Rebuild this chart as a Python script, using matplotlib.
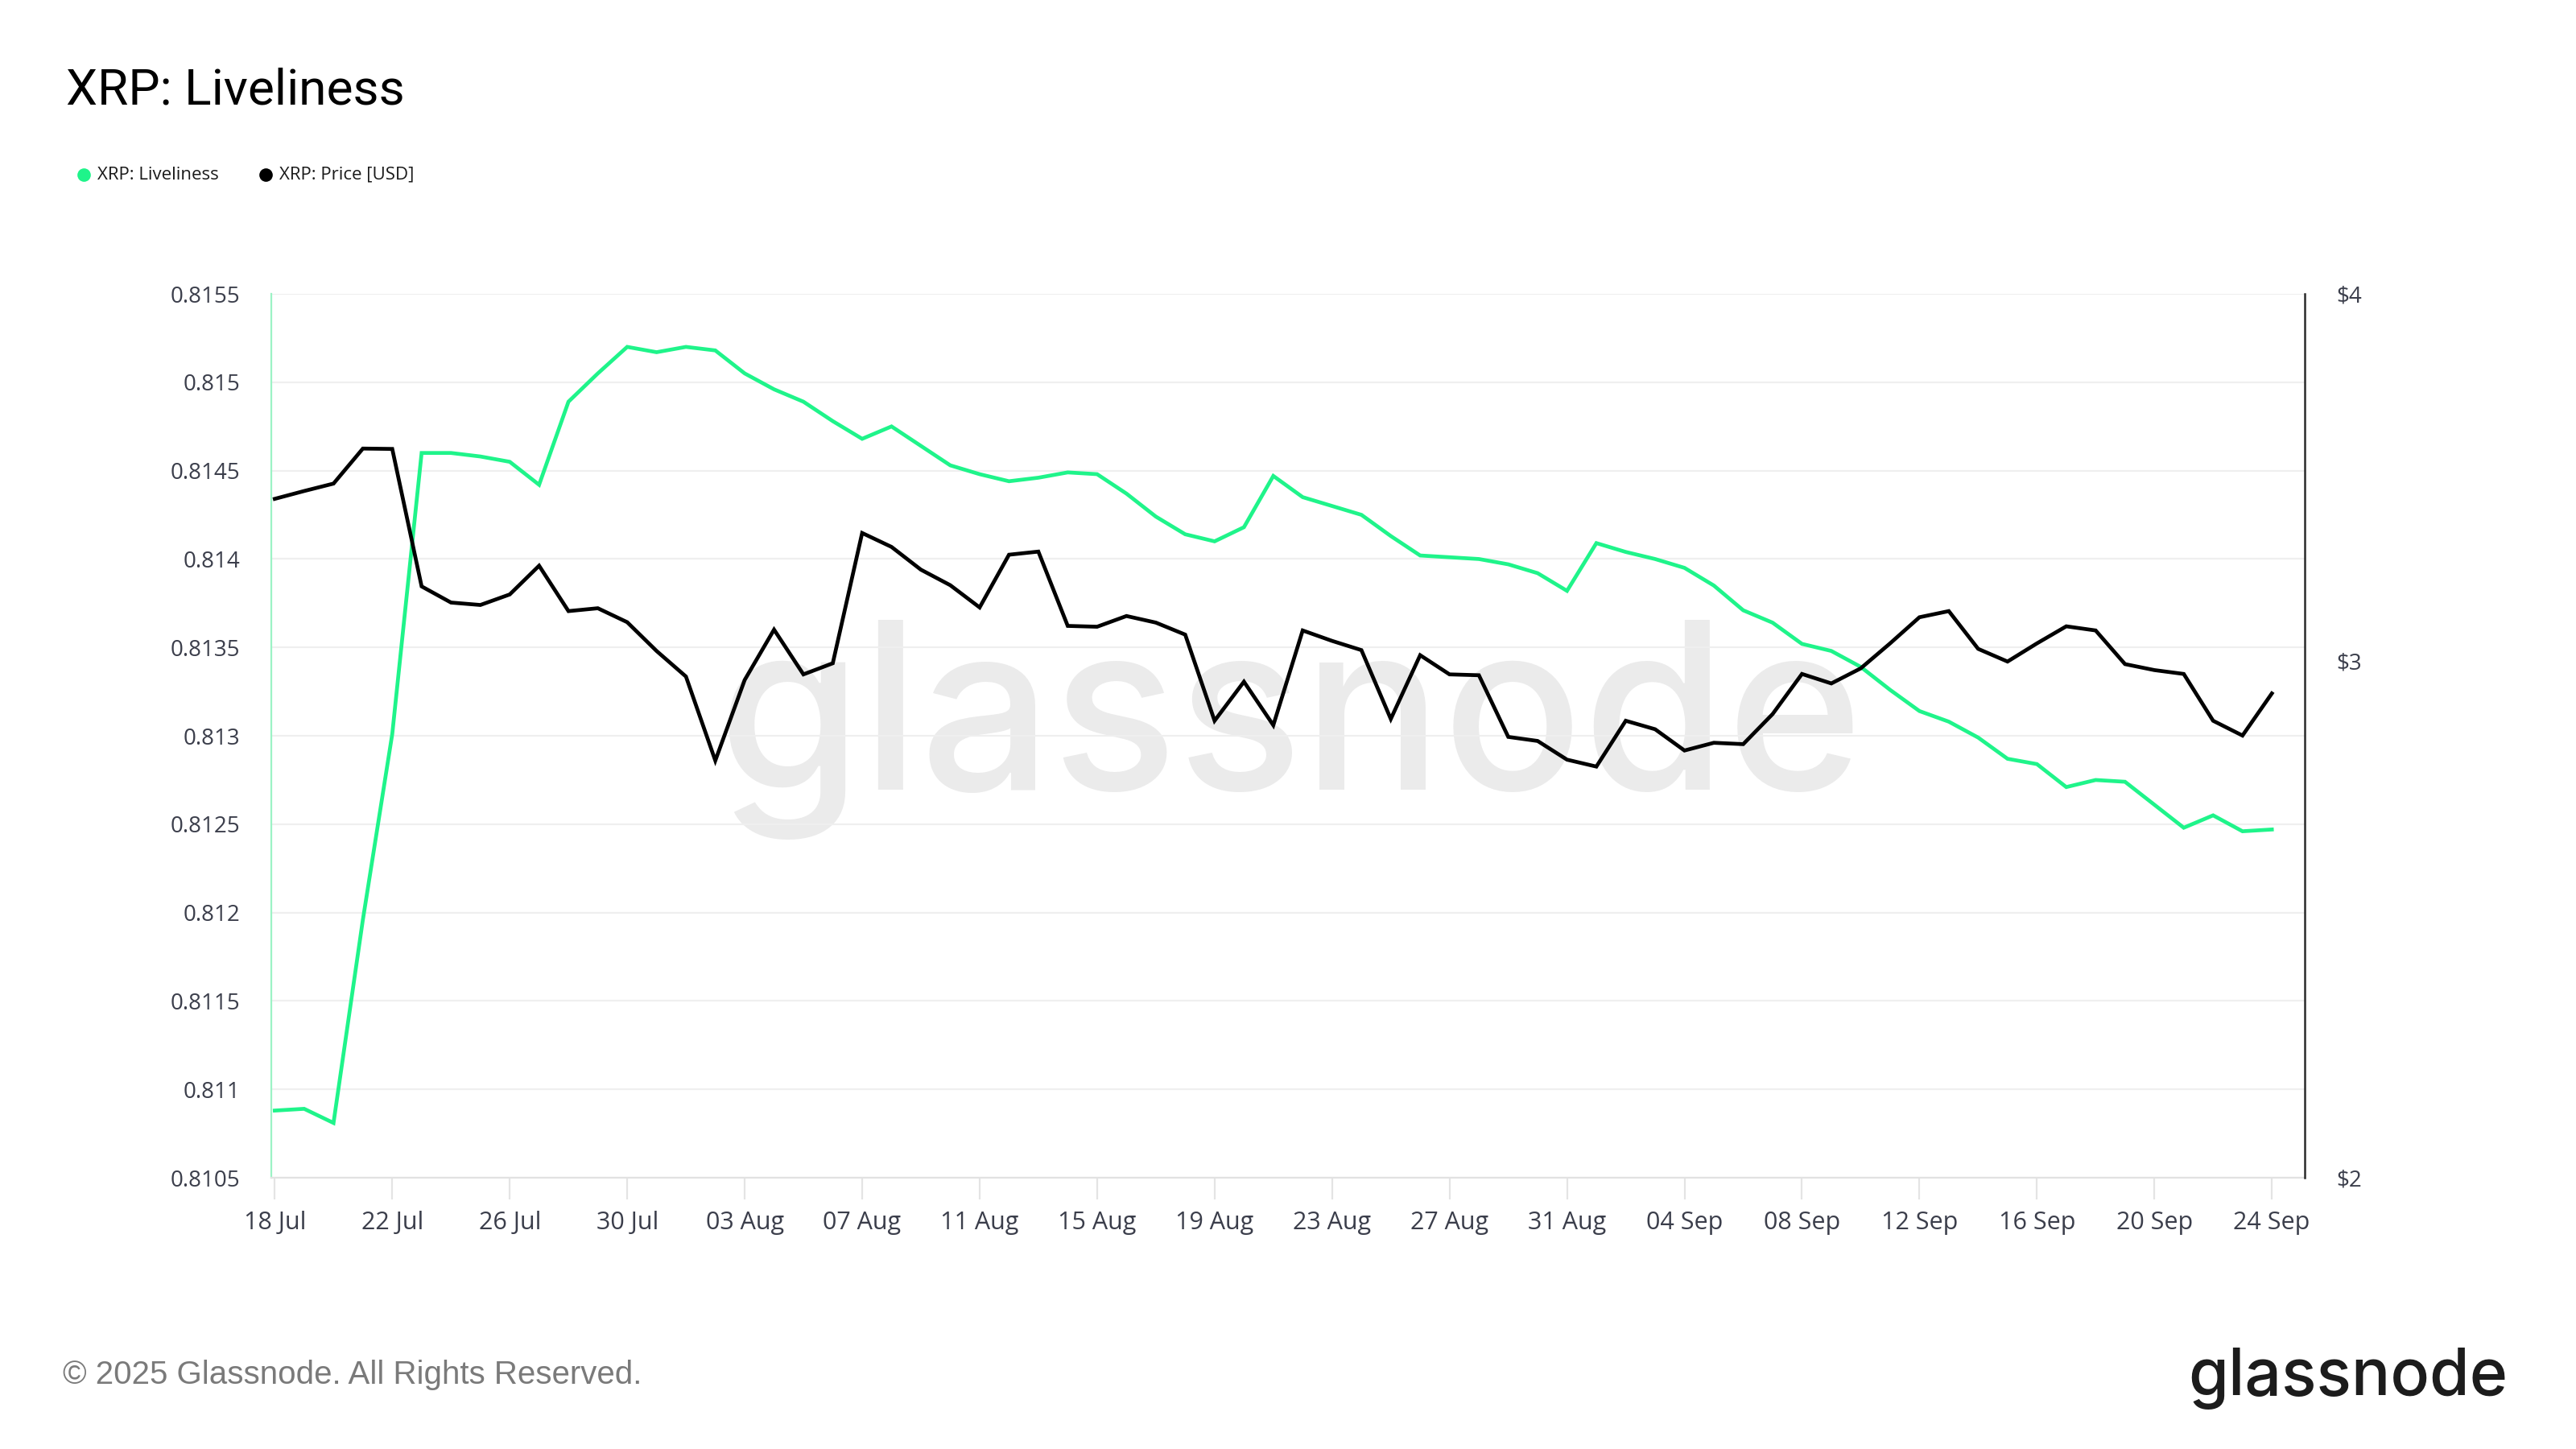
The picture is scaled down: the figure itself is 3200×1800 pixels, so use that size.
import matplotlib
matplotlib.use('Agg')
import matplotlib.pyplot as plt
import matplotlib.ticker as ticker
from matplotlib.lines import Line2D
import pandas as pd

plt.rcParams['font.family'] = ['Open Sans', 'DejaVu Sans']

# ---- data (daily, 18 Jul - 24 Sep 2025) ----
START_DATE = '2025-07-18'

liveliness = [
    0.81088, 0.81089, 0.81081, 0.81196, 0.81301, 0.81460, 0.81460, 0.81458,
    0.81455, 0.81442, 0.81489, 0.81505, 0.81520, 0.81517, 0.81520, 0.81518,
    0.81505, 0.81496, 0.81489, 0.81478, 0.81468, 0.81475, 0.81464, 0.81453,
    0.81448, 0.81444, 0.81446, 0.81449, 0.81448, 0.81437, 0.81424, 0.81414,
    0.81410, 0.81418, 0.81447, 0.81435, 0.81430, 0.81425, 0.81413, 0.81402,
    0.81401, 0.81400, 0.81397, 0.81392, 0.81382, 0.81409, 0.81404, 0.81400,
    0.81395, 0.81385, 0.81371, 0.81364, 0.81352, 0.81348, 0.81339, 0.81326,
    0.81314, 0.81308, 0.81299, 0.81287, 0.81284, 0.81271, 0.81275, 0.81274,
    0.81261, 0.81248, 0.81255, 0.81246, 0.81247,
]

# price on a log axis
price_usd = [
    3.406, 3.427, 3.447, 3.543, 3.542, 3.180, 3.140, 3.134,
    3.160, 3.232, 3.119, 3.126, 3.092, 3.023, 2.963, 2.774,
    2.955, 3.074, 2.968, 2.994, 3.316, 3.280, 3.222, 3.183,
    3.128, 3.260, 3.268, 3.083, 3.081, 3.107, 3.091, 3.062,
    2.862, 2.951, 2.852, 3.072, 3.047, 3.025, 2.866, 3.013,
    2.968, 2.966, 2.826, 2.817, 2.776, 2.761, 2.862, 2.843,
    2.796, 2.813, 2.810, 2.877, 2.969, 2.947, 2.982, 3.041,
    3.104, 3.119, 3.028, 2.998, 3.041, 3.082, 3.072, 2.992,
    2.978, 2.969, 2.862, 2.829, 2.924,
]

left_ticks = [0.8105, 0.811, 0.8115, 0.812, 0.8125, 0.813, 0.8135,
              0.814, 0.8145, 0.815, 0.8155]
right_ticks = [2, 3, 4]

dates = pd.date_range(START_DATE, periods=len(liveliness), freq='D')

GREEN = '#1ff48a'
TICK_COLOR = '#3b3e4b'

fig = plt.figure(figsize=(16, 9), dpi=200)
ax = fig.add_axes([0.1053, 0.1872, 0.7894, 0.61])
ax2 = ax.twinx()

ax.plot(dates, liveliness, color=GREEN, lw=1.7, solid_joinstyle='miter', zorder=3)
ax2.plot(dates, price_usd, color='#000000', lw=1.7, solid_joinstyle='miter', zorder=3)

ax.set_xlim(dates[0] - pd.Timedelta(days=0.12), dates[-1] + pd.Timedelta(days=1.12))
ax.set_ylim(left_ticks[0], left_ticks[-1])
ax2.set_yscale('log')
ax2.set_ylim(right_ticks[0], right_ticks[-1])

ax.set_xticks(dates[::4])
ax.set_xticklabels([d.strftime('%d %b') for d in dates[::4]])
ax.set_yticks(left_ticks)
ax.yaxis.set_major_formatter(ticker.FuncFormatter(lambda v, _: '{:g}'.format(round(v, 4))))
ax2.yaxis.set_major_locator(ticker.FixedLocator(right_ticks))
ax2.yaxis.set_minor_locator(ticker.NullLocator())
ax2.yaxis.set_major_formatter(ticker.FuncFormatter(lambda v, _: '${:g}'.format(v)))

ax.tick_params(axis='x', direction='out', length=9.7, width=0.8, color='#e4e4e4',
               labelsize=11, labelcolor=TICK_COLOR, pad=5)
ax.tick_params(axis='y', length=0, pad=14, labelsize=10, labelcolor=TICK_COLOR)
ax2.tick_params(axis='y', length=0, pad=14, labelsize=10, labelcolor=TICK_COLOR)

ax.yaxis.grid(True, color='#efefef', lw=0.8)
ax.xaxis.grid(False)
ax.set_axisbelow(True)

for s in ['top', 'right']:
    ax.spines[s].set_visible(False)
ax.spines['bottom'].set_color('#e2e2e2')
ax.spines['bottom'].set_linewidth(0.8)
ax.spines['left'].set_color('#9cf3c5')
ax.spines['left'].set_linewidth(0.8)
for s in ['top', 'left', 'bottom']:
    ax2.spines[s].set_visible(False)
ax2.spines['right'].set_color('#2a2a2a')
ax2.spines['right'].set_linewidth(0.9)

# watermark
ax.text(0.501, 0.455, 'glassnode', transform=fig.transFigure, ha='center', va='baseline',
        fontsize=104, color='#ebebeb', family=['Inter', 'DejaVu Sans'],
        fontweight='medium', zorder=0.2)

# title
fig.text(0.0256, 0.9278, 'XRP: Liveliness', ha='left', va='baseline',
         fontsize=22.4, color='#000000', family=['Roboto', 'DejaVu Sans'])

# legend
for mx, tx, label, col in [(0.0325, 0.0378, 'XRP: Liveliness', GREEN),
                           (0.1031, 0.1084, 'XRP: Price [USD]', '#000000')]:
    fig.add_artist(Line2D([mx], [0.8794], marker='o', markersize=6, color=col,
                          markeredgewidth=0, transform=fig.transFigure))
    fig.text(tx, 0.8794, label, ha='left', va='center', fontsize=8, color='#1a1a1a')

# footer
fig.text(0.0244, 0.045, '\u00a9 2025 Glassnode. All Rights Reserved.', ha='left', va='baseline',
         fontsize=14.5, color='#7a7a7a', family=['Liberation Sans', 'DejaVu Sans'])
fig.text(0.9734, 0.0372, 'glassnode', ha='right', va='baseline', fontsize=29,
         color='#1c1c1c', family=['Inter', 'DejaVu Sans'], fontweight='medium')

fig.savefig('out.png', dpi=200, facecolor='white')
